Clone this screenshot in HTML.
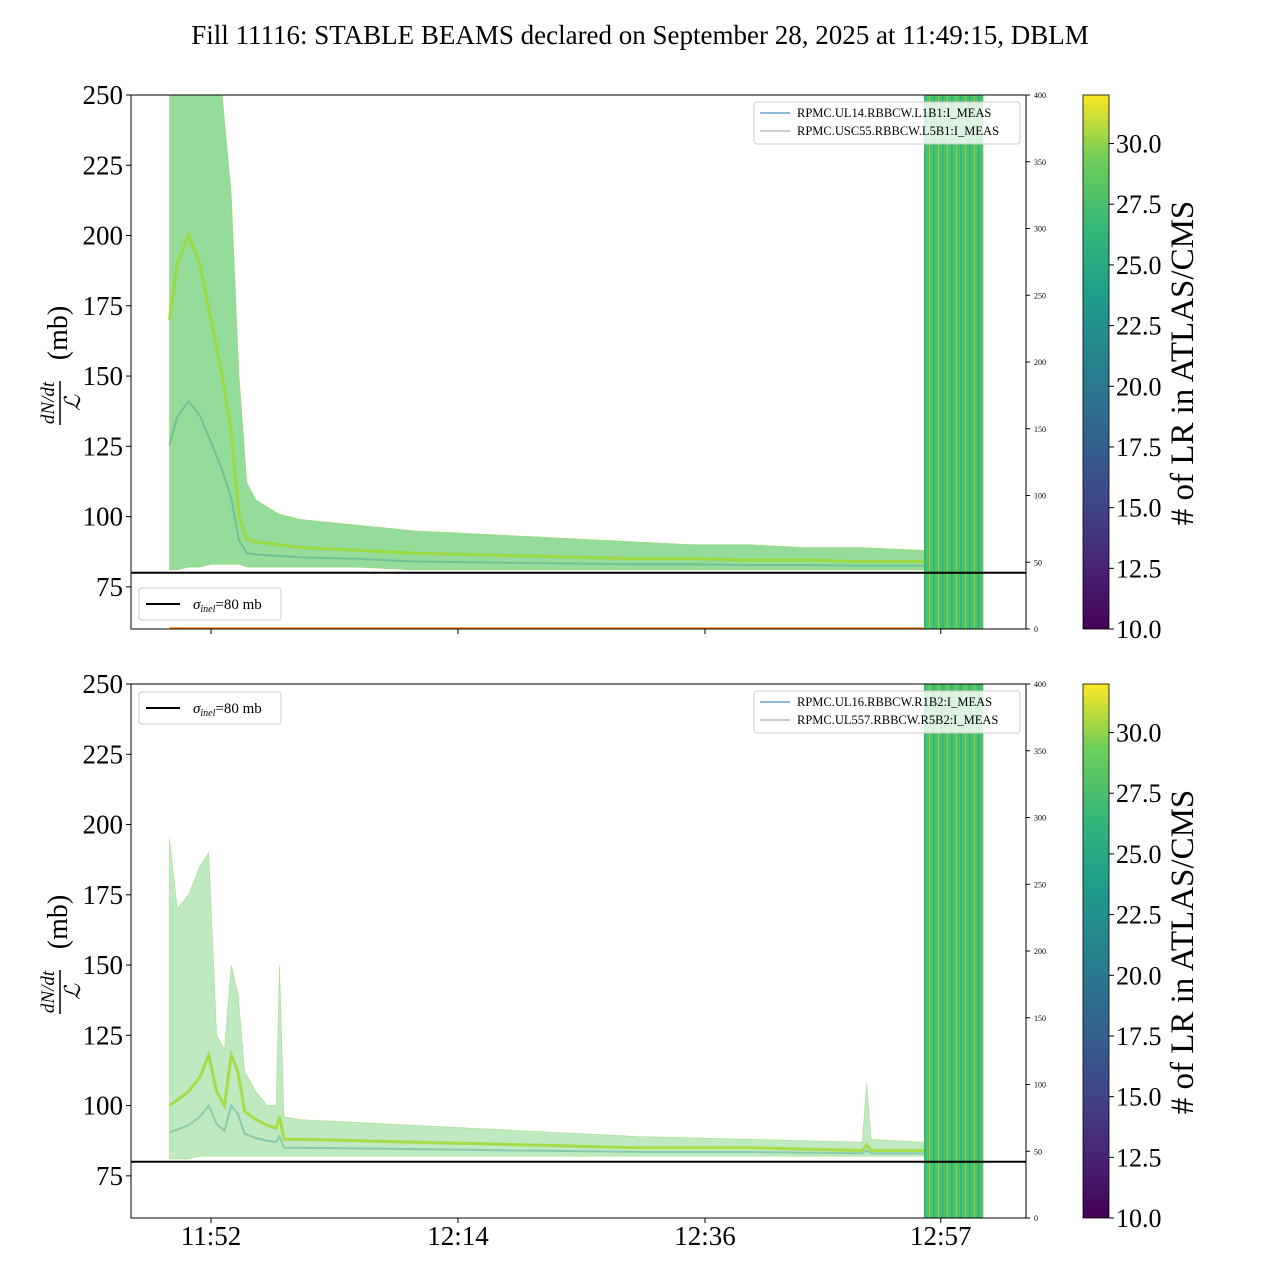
<!DOCTYPE html>
<html><head><meta charset="utf-8">
<style>
body{margin:0;background:#fff;}
svg{display:block;font-family:"Liberation Serif",serif;}
</style></head>
<body>
<svg id="chart" width="1280" height="1280" viewBox="0 0 1280 1280">
<defs>
<linearGradient id="viridis" x1="0" y1="1" x2="0" y2="0">
<stop offset="0" stop-color="#440154"/><stop offset="0.13" stop-color="#482878"/><stop offset="0.25" stop-color="#3e4989"/><stop offset="0.38" stop-color="#31688e"/><stop offset="0.5" stop-color="#26828e"/><stop offset="0.63" stop-color="#1f9e89"/><stop offset="0.75" stop-color="#35b779"/><stop offset="0.88" stop-color="#6ece58"/><stop offset="1" stop-color="#fde725"/>
</linearGradient>
<pattern id="stripes" width="9" height="10" patternUnits="userSpaceOnUse">
<rect width="9" height="10" fill="#4cc26a"/><rect x="2" width="1" height="10" fill="#8fd14f"/><rect x="6" width="1.5" height="10" fill="#2fb47c"/>
</pattern>
</defs>
<text x="640" y="44" text-anchor="middle" font-size="27">Fill 11116: STABLE BEAMS declared on September 28, 2025 at 11:49:15, DBLM</text>
<g id="panels"></g>
</svg>
<script>
// time in minutes after 11:00
const topTimes=[48.3,49,50,51,52,53,53.8,54.5,55.2,56,58,60,65,70,75,80,85,90,95,100,105,110,115.5];
const topUpper=[250,250,250,250,250,250,215,150,112,106,101,99,97,95,94,93,92,91,90,90,89,89,88];
const topMedian=[170,190,200,190,170,150,130,100,92,91,90,89,88,87,86.5,86,85.5,85,85,84.5,84.5,84,84];
const topLower=[81,81,82,82,83,83,83,83,82,82,82,82,82,81,81,81,81,81,81,81,81,81,81];
const botTimes=[48.3,49,50,51,51.8,52.5,53.2,53.8,54.4,55,56,57,57.8,58.1,58.5,60,70,80,90,100,110,110.4,110.8,115.5];
const botUpper=[195,170,175,185,190,125,120,150,140,112,105,100,100,150,96,95,93,91,89,88,87,108,88,87];
const botMedian=[100,102,105,110,118,105,100,118,112,98,95,93,92,96,88,88,87,86,85,85,84,86,84,84];
const botLower=[81,81,81,82,82,82,82,82,82,82,82,82,82,82,82,82,82,82,82,82,82,82,82,82];
const xTickLabels=["11:52","12:14","12:36","12:57"];
const xTickTimes=[52,74,96,117];
const yTicks=[75,100,125,150,175,200,225,250];
const rTicks=[0,50,100,150,200,250,300,350,400];
const cTicks=[10,12.5,15,17.5,20,22.5,25,27.5,30];

const NS="http://www.w3.org/2000/svg";
const g=document.getElementById('panels');
function el(tag,attrs,parent,txt){const e=document.createElementNS(NS,tag);for(const k in attrs)e.setAttribute(k,attrs[k]);if(txt!==undefined)e.textContent=txt;(parent||g).appendChild(e);return e;}
const X0=131,X1=1026;
const xs=t=>211+(t-52)*(247/22);

function panel(top,idx,times,upper,median,lower,legendNames,sigmaLegendTop,op){
  const bot=top+534;
  const ys=v=>bot-(v-60)*(534/190);
  const ry=v=>bot-v*(534/400);
  const pg=el('g',{},g);
  
  
  let pts=times.map((t,i)=>xs(t)+','+ys(upper[i])).concat(times.map((t,i)=>[t,i]).reverse().map(([t,i])=>xs(t)+','+ys(lower[i])));
  const band=el('polygon',{points:pts.join(' '),fill:'#5cc863','fill-opacity':op,stroke:'#8fd14f','stroke-width':0.6,'stroke-opacity':0.6},pg);
  
  
  let mp=times.map((t,i)=>xs(t)+','+ys(median[i])).join(' ');
  const ml=el('polyline',{points:mp,fill:'none',stroke:'#9fd82b','stroke-width':3,'stroke-opacity':0.8},pg);
  
  
  let lp=times.map((t,i)=>xs(t)+','+ys((median[i]+lower[i])/2)).join(' ');
  const ll=el('polyline',{points:lp,fill:'none',stroke:'#21918c','stroke-width':2,'stroke-opacity':0.35},pg);
  
  
  const gb=el('rect',{x:xs(115.5),y:top,width:xs(120.8)-xs(115.5),height:534,fill:'url(#stripes)'},pg);
  
  
  if(idx===1){const o=el('line',{x1:xs(48.3),x2:xs(115.5),y1:ry(0)-1,y2:ry(0)-1,stroke:'#ff7f0e','stroke-width':1.5},pg);
  }
  const sl=el('line',{x1:X0,x2:X1,y1:ys(80),y2:ys(80),stroke:'#000','stroke-width':2},pg);
  
  
  const fr=el('rect',{x:X0,y:top,width:X1-X0,height:534,fill:'none',stroke:'#000','stroke-width':1},pg);
  
  
  yTicks.forEach(v=>{
    el('line',{x1:X0-5,x2:X0,y1:ys(v),y2:ys(v),stroke:'#000'},pg);
    const t=el('text',{x:X0-8,y:ys(v)+9,'text-anchor':'end','font-size':27},pg,String(v));
    
    
  });
  rTicks.forEach(v=>{
    el('line',{x1:X1,x2:X1+4,y1:ry(v),y2:ry(v),stroke:'#000'},pg);
    const t=el('text',{x:X1+8,y:ry(v)+3,'font-size':8},pg,String(v));
    
    
  });
  xTickTimes.forEach((tm,i)=>{
    el('line',{x1:xs(tm),x2:xs(tm),y1:bot,y2:bot+5,stroke:'#000'},pg);
    if(idx===2){const t=el('text',{x:xs(tm),y:bot+27,'text-anchor':'middle','font-size':27},pg,xTickLabels[i]);
    }
  });
  const yl=el('g',{transform:`translate(62,${top+268}) rotate(-90)`},pg);
  
  
  el('text',{x:-40,y:-8,'text-anchor':'middle','font-size':19,'font-style':'italic'},yl,'dN/dt');
  el('line',{x1:-62,x2:-18,y1:-2,y2:-2,stroke:'#000','stroke-width':1.5},yl);
  el('text',{x:-40,y:18,'text-anchor':'middle','font-size':22,'font-style':'italic'},yl,'ℒ');
  el('text',{x:30,y:5,'text-anchor':'middle','font-size':28},yl,'(mb)');
  const lg=el('g',{},pg);
  
  
  el('rect',{x:754,y:top+7,width:266,height:42,rx:3,fill:'#fff','fill-opacity':0.8,stroke:'#ccc'},lg);
  el('line',{x1:760,x2:790,y1:top+18,y2:top+18,stroke:'#1f77b4'},lg);
  el('line',{x1:760,x2:790,y1:top+36,y2:top+36,stroke:'#999'},lg);
  el('text',{x:797,y:top+22,'font-size':12.5},lg,legendNames[0]);
  el('text',{x:797,y:top+40,'font-size':12.5},lg,legendNames[1]);
  const sg=el('g',{},pg);
  
  
  const sy=top+sigmaLegendTop;
  el('rect',{x:139,y:sy,width:142,height:32,rx:3,fill:'#fff','fill-opacity':0.8,stroke:'#ccc'},sg);
  el('line',{x1:146,x2:180,y1:sy+16,y2:sy+16,stroke:'#000','stroke-width':2},sg);
  const st=el('text',{x:193,y:sy+21,'font-size':15},sg);
  el('tspan',{'font-style':'italic'},st,'σ');
  el('tspan',{'font-style':'italic','font-size':10,dy:3},st,'inel');
  el('tspan',{dy:-3},st,'=80 mb');
  const cb=el('g',{},pg);
  
  
  el('rect',{x:1083,y:top,width:26,height:534,fill:'url(#viridis)',stroke:'#000','stroke-width':0.8},cb);
  const cy=v=>bot-(v-10)*(534/22);
  cTicks.forEach(v=>{
    el('line',{x1:1109,x2:1114,y1:cy(v),y2:cy(v),stroke:'#000'},cb);
    el('text',{x:1116,y:cy(v)+9,'font-size':26},cb,v.toFixed(1));
  });
  el('text',{transform:`translate(1193,${top+268}) rotate(-90)`,'text-anchor':'middle','font-size':33},cb,'# of LR in ATLAS/CMS');
}
panel(95,1,topTimes,topUpper,topMedian,topLower,["RPMC.UL14.RBBCW.L1B1:I_MEAS","RPMC.USC55.RBBCW.L5B1:I_MEAS"],493,0.65);
panel(684,2,botTimes,botUpper,botMedian,botLower,["RPMC.UL16.RBBCW.R1B2:I_MEAS","RPMC.UL557.RBBCW.R5B2:I_MEAS"],8,0.4);
</script>
</body></html>
